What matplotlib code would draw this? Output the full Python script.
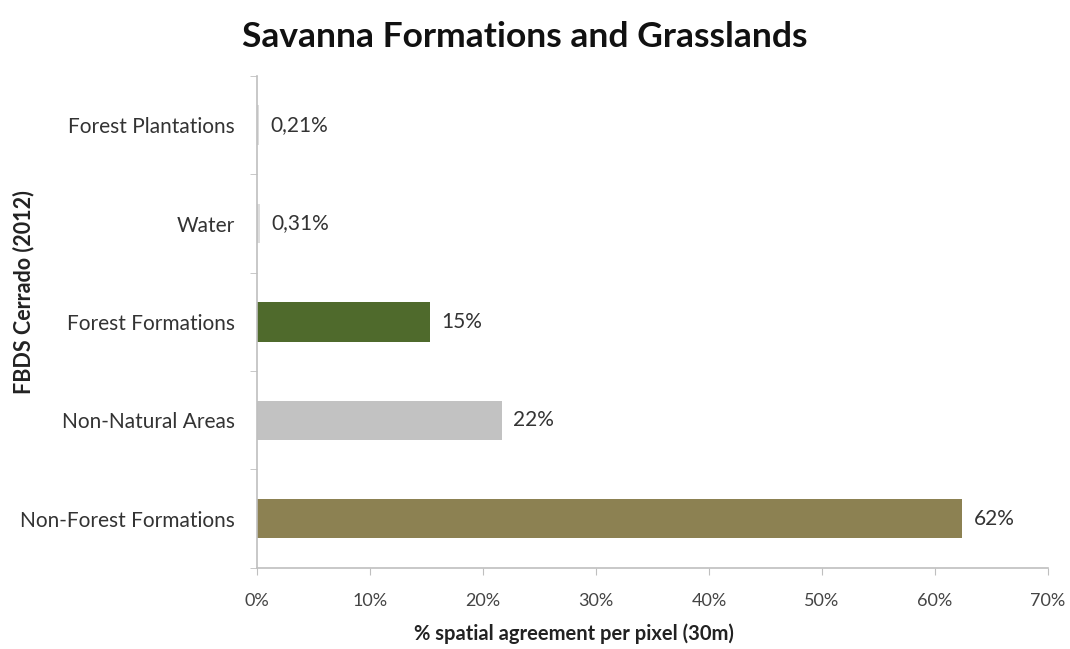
import numpy as np
import matplotlib.pyplot as plt

# land cover classes, bottom to top
classes = ['Non-Forest Formations', 'Non-Natural Areas', 'Forest Formations',
           'Water', 'Forest Plantations']
agreement = [62.4, 21.7, 15.3, 0.31, 0.21]
colors = ['#8C8152', '#C2C2C2', '#4F6A2C', '#DCDCDC', '#DCDCDC']
xticks = [0, 10, 20, 30, 40, 50, 60, 70]

plt.rcParams['font.family'] = ['Lato', 'DejaVu Sans']

fig = plt.figure(figsize=(10.7, 6.49), dpi=100)
ax = fig.add_axes([0.240, 0.125, 0.7395, 0.758])

y = np.arange(len(classes))
ax.barh(y, agreement, height=0.4, color=colors)

for yi, v in zip(y, agreement):
    txt = f'{v:.2f}%'.replace('.', ',') if v < 1 else f'{v:.0f}%'
    ax.text(v + 1.0, yi, txt, va='center', ha='left', fontsize=15, color='#333333')

ax.set_xlim(0, 70)
ax.set_ylim(-0.5, len(classes) - 0.5)
ax.set_xticks(xticks)
ax.set_xticklabels([f'{t}%' for t in xticks], fontsize=13, color='#444444')
ax.set_yticks(y)
ax.set_yticklabels(classes, fontsize=15, color='#333333')
ax.set_yticks(np.arange(-0.5, len(classes), 1.0), minor=True)
ax.tick_params(axis='y', which='major', length=0, pad=16)
ax.tick_params(axis='y', which='minor', length=5, color='#BFBFBF')
ax.tick_params(axis='x', length=5, color='#BFBFBF', pad=13)

for s in ['top', 'right']:
    ax.spines[s].set_visible(False)
for s in ['left', 'bottom']:
    ax.spines[s].set_color('#BFBFBF')
    ax.spines[s].set_linewidth(1.2)

fig.text(574 / 1070, 0.008, '% spatial agreement per pixel (30m)', ha='center', va='bottom',
         fontsize=14.5, fontweight='bold', color='#222222')
fig.text(0.012, 0.55, 'FBDS Cerrado (2012)', rotation=90, va='center', ha='left',
         fontsize=15.5, fontweight='bold', color='#222222')
fig.suptitle('Savanna Formations and Grasslands', x=0.49, y=0.968,
             fontsize=25.5, fontweight='bold', color='#111111')

fig.savefig('out.png', dpi=100)
